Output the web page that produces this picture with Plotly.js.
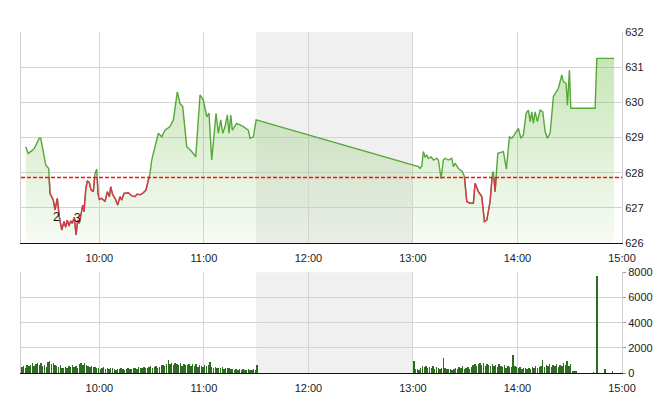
<!DOCTYPE html>
<html><head><meta charset="utf-8">
<script src="https://cdn.plot.ly/plotly-3.0.1.min.js"></script>
<style>html,body{margin:0;padding:0;background:#fff}</style>
</head><body><div id="chart" style="width:660px;height:412px"></div>
<script>
const day = '2024-01-02 ';

// Price series (time, index value)
const priceTimes = [
'09:17:42','09:19:11','09:21:08','09:22:38','09:25:31','09:26:19','09:27:48','09:29:11','09:30:54','09:31:39',
'09:33:33','09:34:31','09:35:50','09:36:59','09:38:22','09:39:41','09:40:40','09:41:35','09:42:34','09:43:32',
'09:44:27','09:45:36','09:46:35','09:47:34','09:48:28','09:49:27','09:50:26','09:51:10','09:52:09','09:53:04',
'09:54:13','09:55:11','09:56:31','09:57:29','09:58:28','09:59:13','09:59:58','10:01:20','10:03:14','10:04:33',
'10:05:42','10:06:30','10:07:39','10:08:58','10:10:31','10:11:50','10:12:49','10:14:08','10:16:37','10:18:34',
'10:20:27','10:21:47','10:23:19','10:25:13','10:26:46','10:28:05','10:29:04','10:30:02','10:30:58','10:32:20',
'10:33:50','10:35:47','10:37:41','10:40:33','10:42:27','10:44:44','10:46:17','10:47:50','10:50:08','10:53:01',
'10:55:19','10:57:46','10:59:40','11:01:37','11:02:56','11:04:29','11:06:58','11:08:17','11:09:40','11:10:49',
'11:12:08','11:13:27','11:14:26','11:15:24','11:16:19','11:18:51','11:22:38','11:25:31','11:26:29','11:28:23',
'11:30:00',
'13:03:07','13:04:05','13:05:04','13:05:59','13:06:58','13:07:56','13:08:52','13:10:25','13:11:44','13:13:41',
'13:14:36','13:16:09','13:17:28','13:18:26','13:20:20','13:22:17','13:23:13','13:24:11','13:26:05','13:28:23',
'13:29:32','13:30:54','13:32:48','13:34:41','13:35:40','13:37:34','13:39:31','13:41:01','13:42:23','13:44:17',
'13:45:36','13:46:11','13:47:09','13:48:42','13:51:55','13:53:38','13:55:22','13:56:44','13:58:04','13:59:37',
'14:00:32','14:01:55','14:03:24','14:04:57','14:06:16','14:07:15','14:08:13','14:09:08','14:10:07','14:11:26',
'14:12:59','14:14:32','14:15:52','14:17:11','14:18:44','14:20:37','14:22:35','14:23:29','14:24:28','14:25:27',
'14:26:22','14:27:55','14:28:40','14:29:49','14:30:37','14:44:34','14:45:32','14:55:29'
];
const priceValues = [
628.74,628.55,628.62,628.69,628.98,628.98,628.60,628.22,628.12,627.41,
627.22,626.94,627.27,626.75,626.37,626.61,626.45,626.65,626.48,626.63,
626.56,626.73,626.23,626.65,626.56,626.89,627.08,626.89,627.51,627.77,
627.72,627.51,627.46,627.98,628.10,627.41,627.24,627.27,627.18,627.46,
627.32,627.60,627.37,627.27,627.08,627.32,627.22,627.41,627.43,627.34,
627.32,627.39,627.37,627.43,627.51,627.79,627.98,628.36,628.55,628.84,
629.12,629.02,629.21,629.31,629.50,630.30,629.97,629.88,628.74,628.60,
628.45,630.21,630.07,629.59,629.69,628.36,629.69,629.12,629.50,629.12,
629.31,629.64,629.12,629.64,629.21,629.40,629.31,629.21,628.98,629.02,
629.50,
628.17,628.12,628.19,628.60,628.45,628.50,628.41,628.45,628.36,628.41,
628.36,627.84,628.36,628.41,628.36,628.41,628.17,628.27,628.12,628.03,
627.89,627.18,627.13,627.13,627.70,627.46,627.32,626.61,626.65,627.18,
627.98,628.03,627.46,628.55,628.60,628.10,629.02,628.98,629.07,629.17,
629.26,628.98,629.07,629.69,629.78,629.45,629.73,629.40,629.73,629.45,
629.78,629.73,629.17,628.98,629.12,630.16,630.35,630.40,630.59,630.78,
630.59,630.54,629.92,630.92,629.83,629.83,631.25,631.25
];
const refPrice = 627.86;

// Volume: one bar per minute from 09:15 and from 13:00, plus late bars
const amVolStart = [9, 15];
const amVolume = [
480,560,420,600,520,640,760,560,720,820,600,760,520,640,480,900,960,700,820,640,
560,500,600,420,380,460,400,520,440,600,480,560,420,700,780,640,820,600,520,480,
560,440,500,380,400,320,360,440,300,380,340,420,360,300,260,340,280,380,320,260,
300,360,280,340,420,380,300,460,400,360,480,420,380,440,520,400,480,560,420,500,
600,640,520,700,1000,680,760,600,820,700,640,780,560,720,660,600,740,520,680,560,
700,480,620,560,480,640,520,600,860,440,400,480,360,420,380,460,340,400,360,420,
320,300,260,320,240,280,220,300,260,240,280,220,260,300,240,660
];
const pmVolStart = [13, 0];
const pmVolume = [
960,280,320,240,360,520,440,560,360,480,400,520,340,460,380,300,420,1200,360,320,
280,340,260,300,380,300,440,360,520,280,400,460,340,500,600,720,540,680,760,620,
800,560,700,640,580,740,520,600,440,680,560,480,640,420,560,500,460,1400,560,440,
380,480,340,420,360,300,400,340,460,380,520,420,480,560,1060,480,620,540,700,460,
660,580,720,500,640,560,760,600,960,520,680,180,120,140
];
const lateVolTimes = ['14:43:30','14:45:32','14:50:20','14:54:40'];
const lateVolume = [100, 7700, 280, 160];

const hourTicks = ['10:00','11:00','12:00','13:00','14:00','15:00'];
const priceTicks = [626,627,628,629,630,631,632];
const volTicks = [0,2000,4000,6000,8000];
const lunchBreak = ['11:30','13:00'];
const lowLabels = [{t:'09:35:30', v:626.73, s:'2'}, {t:'09:47:26', v:626.71, s:'3'}];

// ---- build ----
const pad = n => String(n).padStart(2,'0');
const minuteTimes = (start, n) => Array.from({length:n}, (_, i) => {
  const t = start[0]*60 + start[1] + i;
  return day + pad(Math.floor(t/60)) + ':' + pad(t%60) + ':30';
});
const px = priceTimes.map(t => day + t);
const volX = minuteTimes(amVolStart, amVolume.length)
  .concat(minuteTimes(pmVolStart, pmVolume.length), lateVolTimes.map(t => day + t));
const volY = amVolume.concat(pmVolume, lateVolume);

const priceDomain = [0.3812, 1];
const volDomain = [0, 0.2953];
const yRange = [priceTicks[0], priceTicks[priceTicks.length-1]];
const refFrac = priceDomain[0] + (refPrice - yRange[0]) / (yRange[1]-yRange[0]) * (priceDomain[1]-priceDomain[0]);

const font = {family:'"Liberation Sans", Arial, sans-serif', size:11, color:'#222'};
const grid = '#d4d4d4';
const green = '#55a83a', red = '#d8364f';

const traces = [
  {x:px, y:priceValues, type:'scatter', mode:'lines', xaxis:'x', yaxis:'y',
   line:{color:green, width:1.4}, fill:'tozeroy',
   fillgradient:{type:'vertical', start:626, stop:631.3,
     colorscale:[[0,'rgba(125,195,85,0.06)'],[1,'rgba(125,195,85,0.42)']]},
   hoverinfo:'skip', showlegend:false},
  {x:px, y:priceValues, type:'scatter', mode:'lines', xaxis:'x', yaxis:'y3',
   line:{color:red, width:1.4}, hoverinfo:'skip', showlegend:false},
  {x:volX, y:volY, type:'bar', xaxis:'x2', yaxis:'y2', width:48000,
   marker:{color:'#2f6b22', line:{width:0}}, hoverinfo:'skip', showlegend:false}
];

const xCommon = {type:'date', range:[day+'09:15', day+'15:00'],
  tickvals:hourTicks.map(t => day+t), ticktext:hourTicks,
  showgrid:true, gridcolor:grid, gridwidth:1, zeroline:false,
  showline:true, linecolor:'#111', linewidth:1, ticks:'', tickfont:font, ticklabelstandoff:5};

const layout = {
  width:660, height:412, margin:{l:21, r:38.3, t:32, b:39, pad:0},
  paper_bgcolor:'#fff', plot_bgcolor:'rgba(0,0,0,0)', showlegend:false,
  font:font, bargap:0,
  xaxis:Object.assign({}, xCommon, {anchor:'y', domain:[0,1]}),
  xaxis2:Object.assign({}, xCommon, {anchor:'y2', domain:[0,1]}),
  yaxis:{domain:priceDomain, range:yRange, side:'right', tickvals:priceTicks,
    showgrid:true, gridcolor:grid, zeroline:false, showline:true, linecolor:'#cfcfcf',
    mirror:true, ticks:'', tickfont:font, anchor:'x'},
  yaxis3:{domain:[priceDomain[0], refFrac], range:[yRange[0], refPrice], visible:false, anchor:'x', fixedrange:true},
  yaxis2:{domain:volDomain, range:[0,8000], side:'right', tickvals:volTicks, tickformat:'d',
    showgrid:true, gridcolor:grid, zeroline:false, showline:true, linecolor:'#cfcfcf',
    mirror:true, ticks:'outside', ticklen:3, tickcolor:'#999', tickfont:font, anchor:'x2'},
  shapes:[
    {type:'rect', xref:'x', yref:'y domain', x0:day+lunchBreak[0], x1:day+lunchBreak[1], y0:0, y1:1,
     fillcolor:'#f0f0f0', line:{width:0}, layer:'below'},
    {type:'rect', xref:'x2', yref:'y2 domain', x0:day+lunchBreak[0], x1:day+lunchBreak[1], y0:0, y1:1,
     fillcolor:'#f0f0f0', line:{width:0}, layer:'below'},
    {type:'line', xref:'paper', yref:'y', x0:0, x1:1, y0:refPrice, y1:refPrice,
     line:{color:'#ff1010', width:1.5, dash:'4px,2px'}, layer:'above'}
  ],
  annotations: lowLabels.map(a => ({x:day+a.t, y:a.v, xref:'x', yref:'y', text:a.s, showarrow:false,
    font:{family:font.family, size:12, color:'#111'}}))
};

Plotly.newPlot('chart', traces, layout, {staticPlot:true, displayModeBar:false});
</script>
</body></html>
